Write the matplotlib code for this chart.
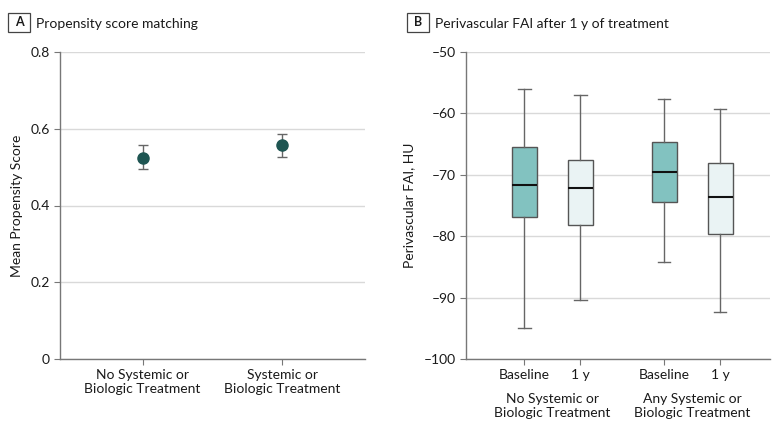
import matplotlib.pyplot as plt
from matplotlib.patches import Rectangle

plt.rcParams['font.family'] = ['Lato', 'DejaVu Sans']

# panel A data
groups_a = ['No Systemic or\nBiologic Treatment', 'Systemic or\nBiologic Treatment']
mean_score = [0.525, 0.557]
ci_low = [0.495, 0.527]
ci_high = [0.557, 0.587]

# panel B data (min, q1, median, q3, max)
box_labels = ['Baseline', '1 y', 'Baseline', '1 y']
groups_b = ['No Systemic or\nBiologic Treatment', 'Any Systemic or\nBiologic Treatment']
fai_min = [-95.0, -90.4, -84.2, -92.3]
fai_q1 = [-76.9, -78.1, -74.4, -79.7]
fai_med = [-71.6, -72.2, -69.5, -73.6]
fai_q3 = [-65.4, -67.6, -64.6, -68.0]
fai_max = [-56.1, -57.0, -57.7, -59.3]

teal = '#82c2c0'
light = '#eaf3f4'
dark = '#1e5552'
grid_c = '#d9d9d9'
spine_c = '#777777'
txt_c = '#1a1a1a'

fig = plt.figure(figsize=(7.8, 4.32), dpi=100)

def style(ax):
    for s in ['top', 'right']:
        ax.spines[s].set_visible(False)
    for s in ['left', 'bottom']:
        ax.spines[s].set_color(spine_c)
        ax.spines[s].set_linewidth(1.0)
    ax.tick_params(colors=spine_c, labelcolor=txt_c, labelsize=10, length=4, width=0.8)
    ax.yaxis.grid(True, color=grid_c, linewidth=1.0)
    ax.set_axisbelow(True)

# ---- A
ax1 = fig.add_axes([60/780, 1-359/432, 305/780, 307/432])
style(ax1)
xa = [0, 1]
err = [[m - l for m, l in zip(mean_score, ci_low)], [h - m for m, h in zip(mean_score, ci_high)]]
ax1.errorbar(xa, mean_score, yerr=err, fmt='o', color=dark, ms=8, ecolor='#666666',
             elinewidth=1.0, capsize=3.7, capthick=1.0, zorder=3)
ax1.set_xlim(-0.59, 1.59)
ax1.set_ylim(0, 0.8)
ax1.set_yticks([0, 0.2, 0.4, 0.6, 0.8])
ax1.set_yticklabels(['0', '0.2', '0.4', '0.6', '0.8'])
ax1.set_xticks(xa)
ax1.set_xticklabels(groups_a, fontsize=10, linespacing=1.2)
ax1.set_ylabel('Mean Propensity Score', fontsize=10, color=txt_c, labelpad=5)

# ---- B
ax2 = fig.add_axes([466/780, 1-359/432, 304/780, 307/432])
style(ax2)
pos = [1, 2, 3.5, 4.5]
stats = []
for i in range(4):
    stats.append(dict(whislo=fai_min[i], q1=fai_q1[i], med=fai_med[i], q3=fai_q3[i],
                      whishi=fai_max[i], fliers=[]))
bp = ax2.bxp(stats, positions=pos, widths=0.45, patch_artist=True, showfliers=False,
             medianprops=dict(color='#111111', linewidth=1.5),
             whiskerprops=dict(color='#666666', linewidth=1.0),
             capprops=dict(color='#666666', linewidth=1.0),
             boxprops=dict(edgecolor='#555555', linewidth=1.0))
for i, b in enumerate(bp['boxes']):
    b.set_facecolor(teal if i % 2 == 0 else light)
ax2.set_xlim(-0.04, 5.39)
ax2.set_ylim(-100, -50)
ax2.set_yticks(range(-100, -49, 10))
ax2.set_yticklabels(['\u2013' + str(abs(v)) for v in range(-100, -49, 10)])
ax2.set_xticks(pos)
ax2.set_xticklabels(box_labels, fontsize=10)
ax2.set_ylabel('Perivascular FAI, HU', fontsize=10, color=txt_c, labelpad=6)
for j, g in enumerate(groups_b):
    ax2.text((pos[2*j] + pos[2*j+1]) / 2, -105.5, g, ha='center', va='top', fontsize=10,
             color=txt_c, linespacing=1.2)

# panel headers
def header(x_box, x_txt, letter, title):
    fig.patches.append(Rectangle((x_box/780, 1-32/432), 22/780, 19/432, transform=fig.transFigure,
                                 fill=False, edgecolor='#444444', linewidth=0.9))
    fig.text((x_box+11)/780, 1-22.5/432, letter, ha='center', va='center', fontsize=9,
             fontweight='bold', color=txt_c)
    fig.text(x_txt/780, 1-23.5/432, title, ha='left', va='center', fontsize=10, color=txt_c)

header(8, 36, 'A', 'Propensity score matching')
header(407, 435, 'B', 'Perivascular FAI after 1 y of treatment')

fig.savefig('out.png', dpi=100)
